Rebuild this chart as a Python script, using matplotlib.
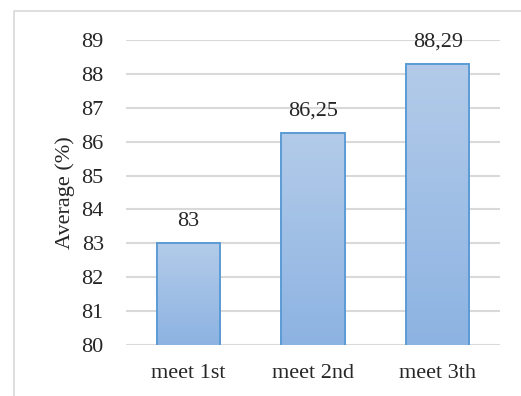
import numpy as np
import matplotlib.pyplot as plt
from matplotlib.patches import Rectangle

# average score per meeting
meetings = ["meet 1st", "meet 2nd", "meet 3th"]
averages = [83, 86.25, 88.29]
labels = ["83", "86,25", "88,29"]
yticks = [80, 81, 82, 83, 84, 85, 86, 87, 88, 89]

plt.rcParams['font.family'] = ['Liberation Serif', 'DejaVu Serif']
fs = 16

fig = plt.figure(figsize=(5.21, 3.96), dpi=100)
ax = fig.add_axes([0.2418, 0.1288, 0.7179, 0.7702])

# light frame around the chart area
fig.patches.append(Rectangle((14 / 521, -0.1), 1.2, 1 - 11 / 396 + 0.1,
                             transform=fig.transFigure, fill=False,
                             edgecolor='#d9d9d9', linewidth=1.2))

x = np.arange(len(meetings))
bars = ax.bar(x, averages, width=0.51, bottom=0, color='none',
              edgecolor='#5b9bd5', linewidth=1.4, zorder=3)

# vertical gradient fill inside each bar
grad = np.linspace(0, 1, 256).reshape(-1, 1)
cmap = plt.matplotlib.colors.LinearSegmentedColormap.from_list('g', ['#8db3e2', '#b3cbe9'])
for b in bars:
    x0, w, h = b.get_x(), b.get_width(), b.get_height()
    im = ax.imshow(grad, extent=[x0, x0 + w, 80, h], origin='lower', cmap=cmap,
                   aspect='auto', zorder=2)
    im.set_clip_path(b)

for xi, v, t in zip(x, averages, labels):
    ax.annotate(t, (xi, v), xytext=(0, 9), textcoords='offset points',
                ha='center', va='bottom', fontsize=fs, color='#262626')

ax.set_xlim(-0.5, 2.5)
ax.set_ylim(80, 89)
ax.set_yticks(yticks)
ax.set_xticks(x)
ax.set_xticklabels(meetings)
ax.yaxis.grid(True, color='#d9d9d9', linewidth=1.5, zorder=0)
ax.set_axisbelow(True)
for s in ax.spines.values():
    s.set_visible(False)
ax.tick_params(length=0, labelsize=fs, labelcolor='#262626')
ax.tick_params(axis='y', pad=16)
ax.tick_params(axis='x', pad=14)
ax.set_ylabel("Average (%)", fontsize=fs, color='#262626', labelpad=5)

fig.savefig("out.png", dpi=100)
